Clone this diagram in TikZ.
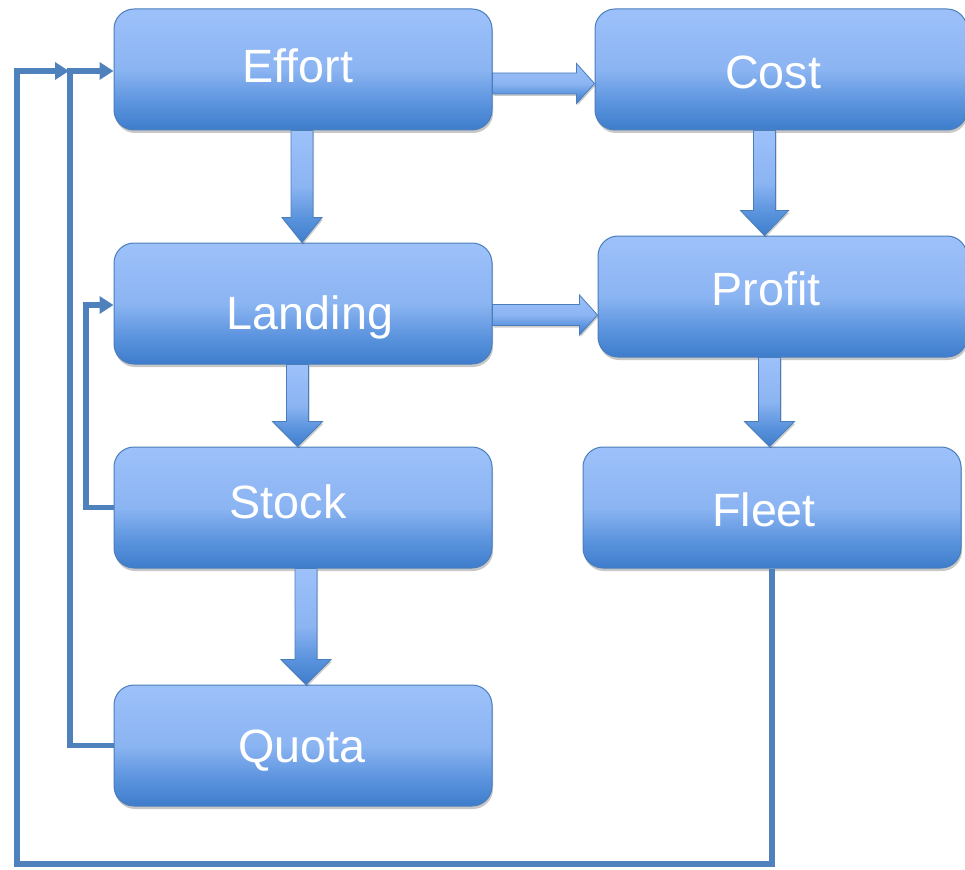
\documentclass[tikz,border=0pt]{standalone}
\usepackage{fontspec}
\setmainfont{Liberation Sans}
\usetikzlibrary{arrows.meta,calc,shadows}
\definecolor{bt}{HTML}{9DC1FA}
\definecolor{bm}{HTML}{8BB4F2}
\definecolor{bmm}{HTML}{5A93DD}
\definecolor{bb}{HTML}{3E7DCC}
\definecolor{bline}{HTML}{4A7EBB}
\definecolor{lineblue}{HTML}{4F81BD}
\pgfdeclareverticalshading{boxgrad}{100bp}{color(0bp)=(bb); color(25bp)=(bb); color(36bp)=(bmm); color(50bp)=(bm); color(75bp)=(bt); color(100bp)=(bt)}
\newcommand\harr[3]{\path[barrow] let \p1=(#1), \p2=(#2), \p3=(0,#3) in
  (\x1,\y3+10.5pt) -- (\x2-18pt,\y3+10.5pt) -- (\x2-18pt,\y3+20pt) -- (\x2,\y3)
  -- (\x2-18pt,\y3-20pt) -- (\x2-18pt,\y3-10.5pt) -- (\x1,\y3-10.5pt) -- cycle;}
\newcommand\varr[4]{\path[barrow] let \p1=(#1), \p2=(#2), \p3=(#3,0) in
  (\x3-11pt,\y1) -- (\x3-11pt,\y2+25pt) -- (\x3-#4pt,\y2+25pt) -- (\x3,\y2)
  -- (\x3+#4pt,\y2+25pt) -- (\x3+11pt,\y2+25pt) -- (\x3+11pt,\y1) -- cycle;}
\begin{document}
\begin{tikzpicture}[x=1pt,y=-1pt,
  box/.style={rectangle, rounded corners=20pt, draw=bline, line width=1pt,
    shade, shading=boxgrad, minimum height=121pt, inner sep=0pt,
    drop shadow={shadow xshift=1pt, shadow yshift=-3pt, opacity=0.22, fill=black}},
  barrow/.style={shade, shading=boxgrad, draw=bline, line width=0.8pt,
    drop shadow={shadow xshift=1pt, shadow yshift=-2pt, opacity=0.2, fill=black}},
  lbl/.style={text=white, anchor=base, inner sep=0pt, font=\fontsize{46.7pt}{56pt}\selectfont},
  fb/.style={draw=lineblue, line width=5.5pt, -{Triangle[length=14pt,width=17pt]}},
  fbline/.style={draw=lineblue, line width=5.5pt}]
\useasboundingbox (0,0) rectangle (965,869);
\clip (0,0) rectangle (965,869);

% boxes
\node[box, minimum width=378pt] (effort)  at (303,69.5)  {};
\node[box, minimum width=372pt] (cost)    at (781,69.5)  {};
\node[box, minimum width=378pt] (landing) at (303,303.5) {};
\node[box, minimum width=369pt] (profit)  at (782.5,296.5) {};
\node[box, minimum width=378pt] (stock)   at (303,507.5) {};
\node[box, minimum width=378pt] (fleet)   at (772,507.5) {};
\node[box, minimum width=378pt] (quota)   at (303,745.5) {};

% labels
\node[lbl] (effortT)  at (298,82.5)  {Effort};
\node[lbl] (costT)    at (773,88.5)  {Cost};
\node[lbl] (landingT) at (310,329.5) {Landing};
\node[lbl] (profitT)  at (766,305)   {Profit};
\node[lbl] (stockT)   at (288,518.5) {Stock};
\node[lbl] (fleetT)   at (764,526.5) {Fleet};
\node[lbl] (quotaT)   at (302,762.5) {Quota};

% block arrows
\harr{effort.east}{cost.west}{83.5}
\harr{landing.east}{profit.west}{315}
\varr{effort.south}{landing.north}{302}{20}
\varr{cost.south}{profit.north}{764.5}{24}
\varr{landing.south}{stock.north}{297.5}{25}
\varr{profit.south}{fleet.north}{769.5}{25}
\varr{stock.south}{quota.north}{306}{25}

% feedback lines
\coordinate (j) at (70,71);
\coordinate (k) at (86,305);
\coordinate (b) at (17,864);
\draw[fb] (stock.west) -| (k) -- (landing.west |- k);
\draw[fb] (quota.west) -| (j) -- (effort.west |- j);
\draw[fb, shorten >=1pt] (fleet.south) -- (fleet.south |- b) -| ($(b |- j)$) -- (j);
\end{tikzpicture}
\end{document}
